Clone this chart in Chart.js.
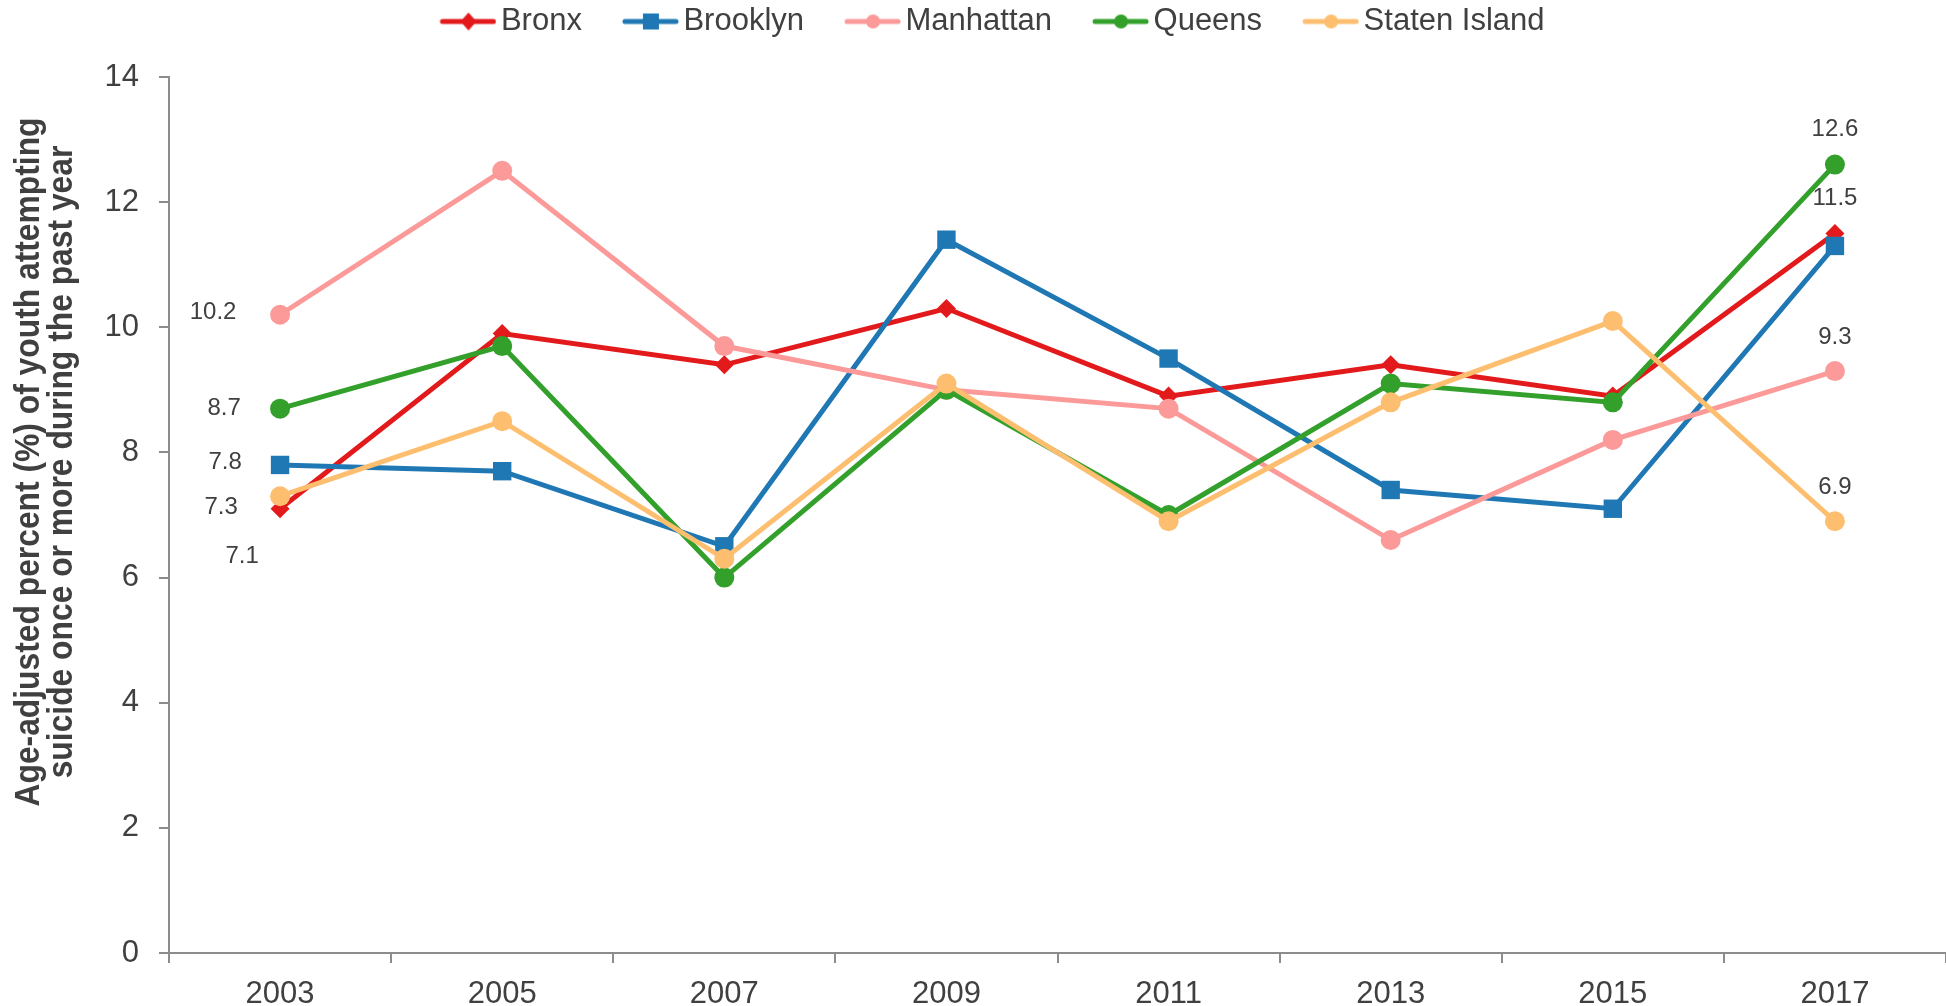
<!DOCTYPE html>
<html lang="en">
<head>
  <meta charset="UTF-8">
  <title>Youth suicide attempts by borough</title>
  <script src="https://cdn.jsdelivr.net/npm/chart.js"></script>
  <style>
    html, body {
      margin: 0;
      padding: 0;
      background: #ffffff;
    }
    .wrap {
      width: 1946px;
      height: 1006px;
    }
  </style>
</head>
<body>
  <div class="wrap"><canvas id="chart" width="1946" height="1006"></canvas></div>

  <script>
    const years = ['2003', '2005', '2007', '2009', '2011', '2013', '2015', '2017'];
    const boroughs = ['Bronx', 'Brooklyn', 'Manhattan', 'Queens', 'Staten Island'];

    const bronx = [7.1, 9.9, 9.4, 10.3, 8.9, 9.4, 8.9, 11.5];
    const brooklyn = [7.8, 7.7, 6.5, 11.4, 9.5, 7.4, 7.1, 11.3];
    const manhattan = [10.2, 12.5, 9.7, 9.0, 8.7, 6.6, 8.2, 9.3];
    const queens = [8.7, 9.7, 6.0, 9.0, 7.0, 9.1, 8.8, 12.6];
    const statenIsland = [7.3, 8.5, 6.3, 9.1, 6.9, 8.8, 10.1, 6.9];

    const yTicks = [0, 2, 4, 6, 8, 10, 12, 14];
    const yTitleLines = ['Age-adjusted percent (%) of youth attempting', 'suicide once or more during the past year'];

    const colors = ['#e31a1c', '#1f78b4', '#fb9a99', '#33a02c', '#fdbf6f'];
    const shapes = ['rectRot', 'rect', 'circle', 'circle', 'circle'];
    const radii = [9.5, 13, 10, 10, 10];

    // where the value labels sit next to the first / last point (pixels)
    const firstLabelOffsets = [[-38, 48], [-55, -3], [-67, -2], [-56, 0], [-59, 11]];
    const lastLabelOffsets = [[0, -35], null, [0, -34], [0, -35], [0, -34]];

    const textColor = '#404040';
    const axisColor = '#8c8c8c';
    const baseFont = "'Liberation Sans', Arial, sans-serif";

    Chart.defaults.font.family = baseFont;
    Chart.defaults.color = textColor;

    // legend symbol: short line with the marker in the middle
    function legendSymbol(color, shape) {
      const c = document.createElement('canvas');
      c.width = 102;
      c.height = 24;
      const ctx = c.getContext('2d');
      ctx.strokeStyle = color;
      ctx.fillStyle = color;
      ctx.lineWidth = 5;
      ctx.lineCap = 'round';
      ctx.beginPath();
      ctx.moveTo(48, 12);
      ctx.lineTo(99, 12);
      ctx.stroke();
      const cx = 74;
      ctx.beginPath();
      if (shape === 'rectRot') {
        ctx.moveTo(cx, 3); ctx.lineTo(cx + 8, 12); ctx.lineTo(cx, 21); ctx.lineTo(cx - 8, 12);
        ctx.closePath();
      } else if (shape === 'rect') {
        ctx.rect(cx - 8, 4, 16, 16);
      } else {
        ctx.arc(cx, 12, 7, 0, Math.PI * 2);
      }
      ctx.fill();
      return c;
    }

    const series = [bronx, brooklyn, manhattan, queens, statenIsland];
    const datasets = series.map((values, i) => ({
      label: boroughs[i],
      data: values,
      borderColor: colors[i],
      backgroundColor: colors[i],
      pointBackgroundColor: colors[i],
      pointBorderWidth: 0,
      pointStyle: shapes[i],
      pointRadius: radii[i],
      pointHoverRadius: radii[i],
      borderWidth: 5,
      tension: 0,
      order: series.length - i,
      legendSymbol: legendSymbol(colors[i], shapes[i])
    }));

    const legendHeight = {
      id: 'legendHeight',
      afterInit(chart) {
        const fit = chart.legend.fit;
        chart.legend.fit = function () {
          fit.call(chart.legend);
          this.height = 77;
        };
      }
    };

    const valueLabels = {
      id: 'valueLabels',
      afterDatasetsDraw(chart) {
        const ctx = chart.ctx;
        ctx.save();
        ctx.font = "24px " + baseFont;
        ctx.fillStyle = textColor;
        ctx.textAlign = 'center';
        ctx.textBaseline = 'middle';
        chart.data.datasets.forEach((ds, i) => {
          const meta = chart.getDatasetMeta(i);
          const last = ds.data.length - 1;
          [[0, firstLabelOffsets[i]], [last, lastLabelOffsets[i]]].forEach(([j, off]) => {
            if (!off) return;
            const pt = meta.data[j];
            ctx.fillText(ds.data[j].toFixed(1), pt.x + off[0], pt.y + off[1]);
          });
        });
        ctx.restore();
      }
    };

    // axis title in a narrow bold face, squeezed to the original length
    const yTitle = {
      id: 'yTitle',
      afterDraw(chart) {
        const ctx = chart.ctx;
        ctx.save();
        ctx.font = "bold 35px " + baseFont;
        ctx.fillStyle = textColor;
        ctx.textAlign = 'center';
        ctx.textBaseline = 'middle';
        const squeeze = 689 / ctx.measureText(yTitleLines[0]).width;
        ctx.translate(0, 462);
        ctx.rotate(-Math.PI / 2);
        ctx.scale(squeeze, 1);
        ctx.fillText(yTitleLines[0], 0, 29);
        ctx.fillText(yTitleLines[1], 0, 62);
        ctx.restore();
      }
    };

    new Chart(document.getElementById('chart'), {
      type: 'line',
      data: { labels: years, datasets: datasets },
      plugins: [legendHeight, valueLabels, yTitle],
      options: {
        responsive: false,
        animation: false,
        layout: { autoPadding: false, padding: { top: 0, left: 0, bottom: 0, right: -4 } },
        plugins: {
          tooltip: { enabled: false },
          legend: {
            position: 'top',
            labels: {
              font: { size: 31 },
              color: textColor,
              usePointStyle: true,
              pointStyleWidth: 80,
              padding: 6,
              sort: (a, b) => a.datasetIndex - b.datasetIndex,
              generateLabels(chart) {
                return chart.data.datasets.map((ds, i) => ({
                  text: ds.label,
                  pointStyle: ds.legendSymbol,
                  fillStyle: ds.borderColor,
                  strokeStyle: ds.borderColor,
                  lineWidth: 0,
                  fontColor: textColor,
                  hidden: !chart.isDatasetVisible(i),
                  datasetIndex: i
                }));
              }
            }
          }
        },
        scales: {
          x: {
            offset: true,
            grid: {
              offset: true,
              drawOnChartArea: false,
              drawTicks: true,
              tickLength: 10,
              color: axisColor,
              lineWidth: 2
            },
            border: { display: true, color: axisColor, width: 2 },
            ticks: { font: { size: 31 }, color: textColor, padding: 13, maxRotation: 0 },
            afterFit(scale) {
              scale.height = 53;
              scale.paddingLeft = 0;
              scale.paddingRight = 0;
            }
          },
          y: {
            min: 0,
            max: 14,
            afterBuildTicks(scale) { scale.ticks = yTicks.map(v => ({ value: v })); },
            grid: {
              drawOnChartArea: false,
              drawTicks: true,
              tickLength: 10,
              color: axisColor,
              lineWidth: 2
            },
            border: { display: true, color: axisColor, width: 2 },
            ticks: { font: { size: 31 }, color: textColor, padding: 20 },
            afterFit(scale) { scale.width = 169; }
          }
        }
      }
    });
  </script>
</body>
</html>
